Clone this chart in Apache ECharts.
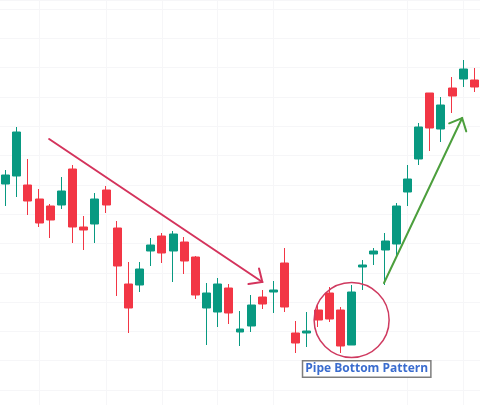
<!DOCTYPE html>
<html>
<head>
<meta charset="utf-8">
<script src="https://cdn.jsdelivr.net/npm/echarts@6/dist/echarts.min.js"></script>
<style>
  html, body { margin: 0; padding: 0; background: #fff; }
  #chart { width: 480px; height: 405px; }
</style>
</head>
<body>
<div id="chart"></div>
<script>
// one row per session: [open, close, low, high]
const candles = [
  [206, 215, 184, 220], [214, 258, 193, 263], [205, 189, 175, 231], [191, 167, 163, 201],
  [184, 170, 152, 186], [185, 199, 181, 213], [221, 163, 147, 225], [163, 160, 140, 174],
  [166, 191, 147, 197], [200, 185, 177, 204], [162, 124, 94, 169], [106, 82, 57, 128],
  [105, 121, 98, 128], [139, 145, 124, 152], [154, 137, 127, 157], [139, 156, 108, 159],
  [148, 129, 116, 153], [133, 95, 91, 134], [82, 97, 45, 107], [78, 106, 63, 112],
  [102, 77, 66, 106], [58, 61, 44, 79], [64, 85, 58, 95], [93, 86, 81, 100],
  [98, 100, 77, 109], [127, 83, 78, 142], [57, 47, 37, 69], [57, 59, 43, 78],
  [80, 70, 63, 85], [97, 71, 68, 103], [80, 44, 37, 83], [45, 98, 45, 105],
  [123, 125, 100, 130], [136, 139, 125, 142], [140, 149, 105, 157], [146, 184, 133, 187],
  [198, 211, 184, 225], [231, 263, 225, 267], [297, 262, 239, 297], [261, 285, 248, 293],
  [302, 294, 277, 313], [311, 321, 303, 330], [310, 303, 298, 322]
];
const sessions = candles.map((_, i) => 'S' + (i + 1));

// sessions where the faint vertical grid lines fall
const gridSessions = [3, 9, 14, 19, 24, 36, 41];

// annotations, in [session index, price]
const downTrend = [[3.9, 251, 23.0, 108]];
const upTrend = [[33.9, 107, 40.9, 272]];
const patternSpot = [[31, 70]];
const patternLabel = [[32.35, 21]];
const patternName = 'Pipe Bottom Pattern';

const UP = '#089981';
const DOWN = '#f23645';

const chart = echarts.init(document.getElementById('chart'), null, { renderer: 'canvas' });

const arrow = (color) => (params, api) => {
  const a = api.coord([api.value(0), api.value(1)]);
  const b = api.coord([api.value(2), api.value(3)]);
  const ang = Math.atan2(a[1] - b[1], a[0] - b[0]);
  const len = 14;
  const spread = 0.74;
  const p1 = [b[0] + len * Math.cos(ang + spread), b[1] + len * Math.sin(ang + spread)];
  const p2 = [b[0] + len * Math.cos(ang - spread), b[1] + len * Math.sin(ang - spread)];
  const style = { stroke: color, lineWidth: 2, fill: null, lineCap: 'round' };
  return {
    type: 'group',
    children: [
      { type: 'line', shape: { x1: a[0], y1: a[1], x2: b[0], y2: b[1] }, style },
      { type: 'polyline', shape: { points: [p1, b, p2] }, style }
    ]
  };
};

const option = {
  animation: false,
  backgroundColor: '#fff',
  // the bottom grid row sits just under the picture, so the grid runs past it
  grid: { left: 0, right: 0, top: 0, height: 419.3, outerBoundsMode: 'none' },
  xAxis: [
    {
      type: 'category',
      data: sessions,
      boundaryGap: true,
      axisLine: { show: false },
      axisTick: { show: false },
      axisLabel: { show: false },
      splitLine: {
        show: true,
        alignWithLabel: true,
        interval: (idx) => gridSessions.includes(idx),
        lineStyle: { color: '#f6f6f8', width: 1 }
      }
    },
    { type: 'value', min: -0.5, max: 42.5, show: false }
  ],
  yAxis: {
    type: 'value',
    min: -29.3,
    max: 390,
    interval: 29.3,
    axisLine: { show: false },
    axisTick: { show: false },
    axisLabel: { show: false },
    splitLine: { lineStyle: { color: '#f6f6f8', width: 1 } }
  },
  series: [
    {
      type: 'candlestick',
      data: candles,
      barWidth: '76%',
      itemStyle: {
        color: UP,
        color0: DOWN,
        borderColor: UP,
        borderColor0: DOWN,
        borderWidth: 1
      }
    },
    {
      type: 'custom',
      xAxisIndex: 1,
      data: downTrend,
      encode: { x: [0, 2], y: [1, 3] },
      renderItem: arrow('#d4335c'),
      z: 5
    },
    {
      type: 'custom',
      xAxisIndex: 1,
      data: upTrend,
      encode: { x: [0, 2], y: [1, 3] },
      renderItem: arrow('#4c9f3d'),
      z: 5
    },
    {
      type: 'custom',
      xAxisIndex: 1,
      data: patternSpot,
      encode: { x: 0, y: 1 },
      renderItem: (params, api) => {
        const c = api.coord([api.value(0), api.value(1)]);
        return {
          type: 'circle',
          shape: { cx: c[0], cy: c[1], r: 37.5 },
          style: { stroke: '#cf3a60', lineWidth: 1.5, fill: null }
        };
      },
      z: 5
    },
    {
      type: 'custom',
      xAxisIndex: 1,
      data: patternLabel,
      encode: { x: 0, y: 1 },
      renderItem: (params, api) => {
        const c = api.coord([api.value(0), api.value(1)]);
        return {
          type: 'text',
          x: c[0],
          y: c[1],
          style: {
            text: patternName,
            align: 'center',
            verticalAlign: 'middle',
            font: 'bold 12px "Open Sans"',
            fill: '#3a6cce',
            backgroundColor: '#fff',
            borderColor: '#7d7d7d',
            borderWidth: 1.5,
            padding: [2, 2, 1, 2]
          }
        };
      },
      z: 6
    }
  ]
};

chart.setOption(option);
window.addEventListener('resize', () => chart.resize());
</script>
</body>
</html>
